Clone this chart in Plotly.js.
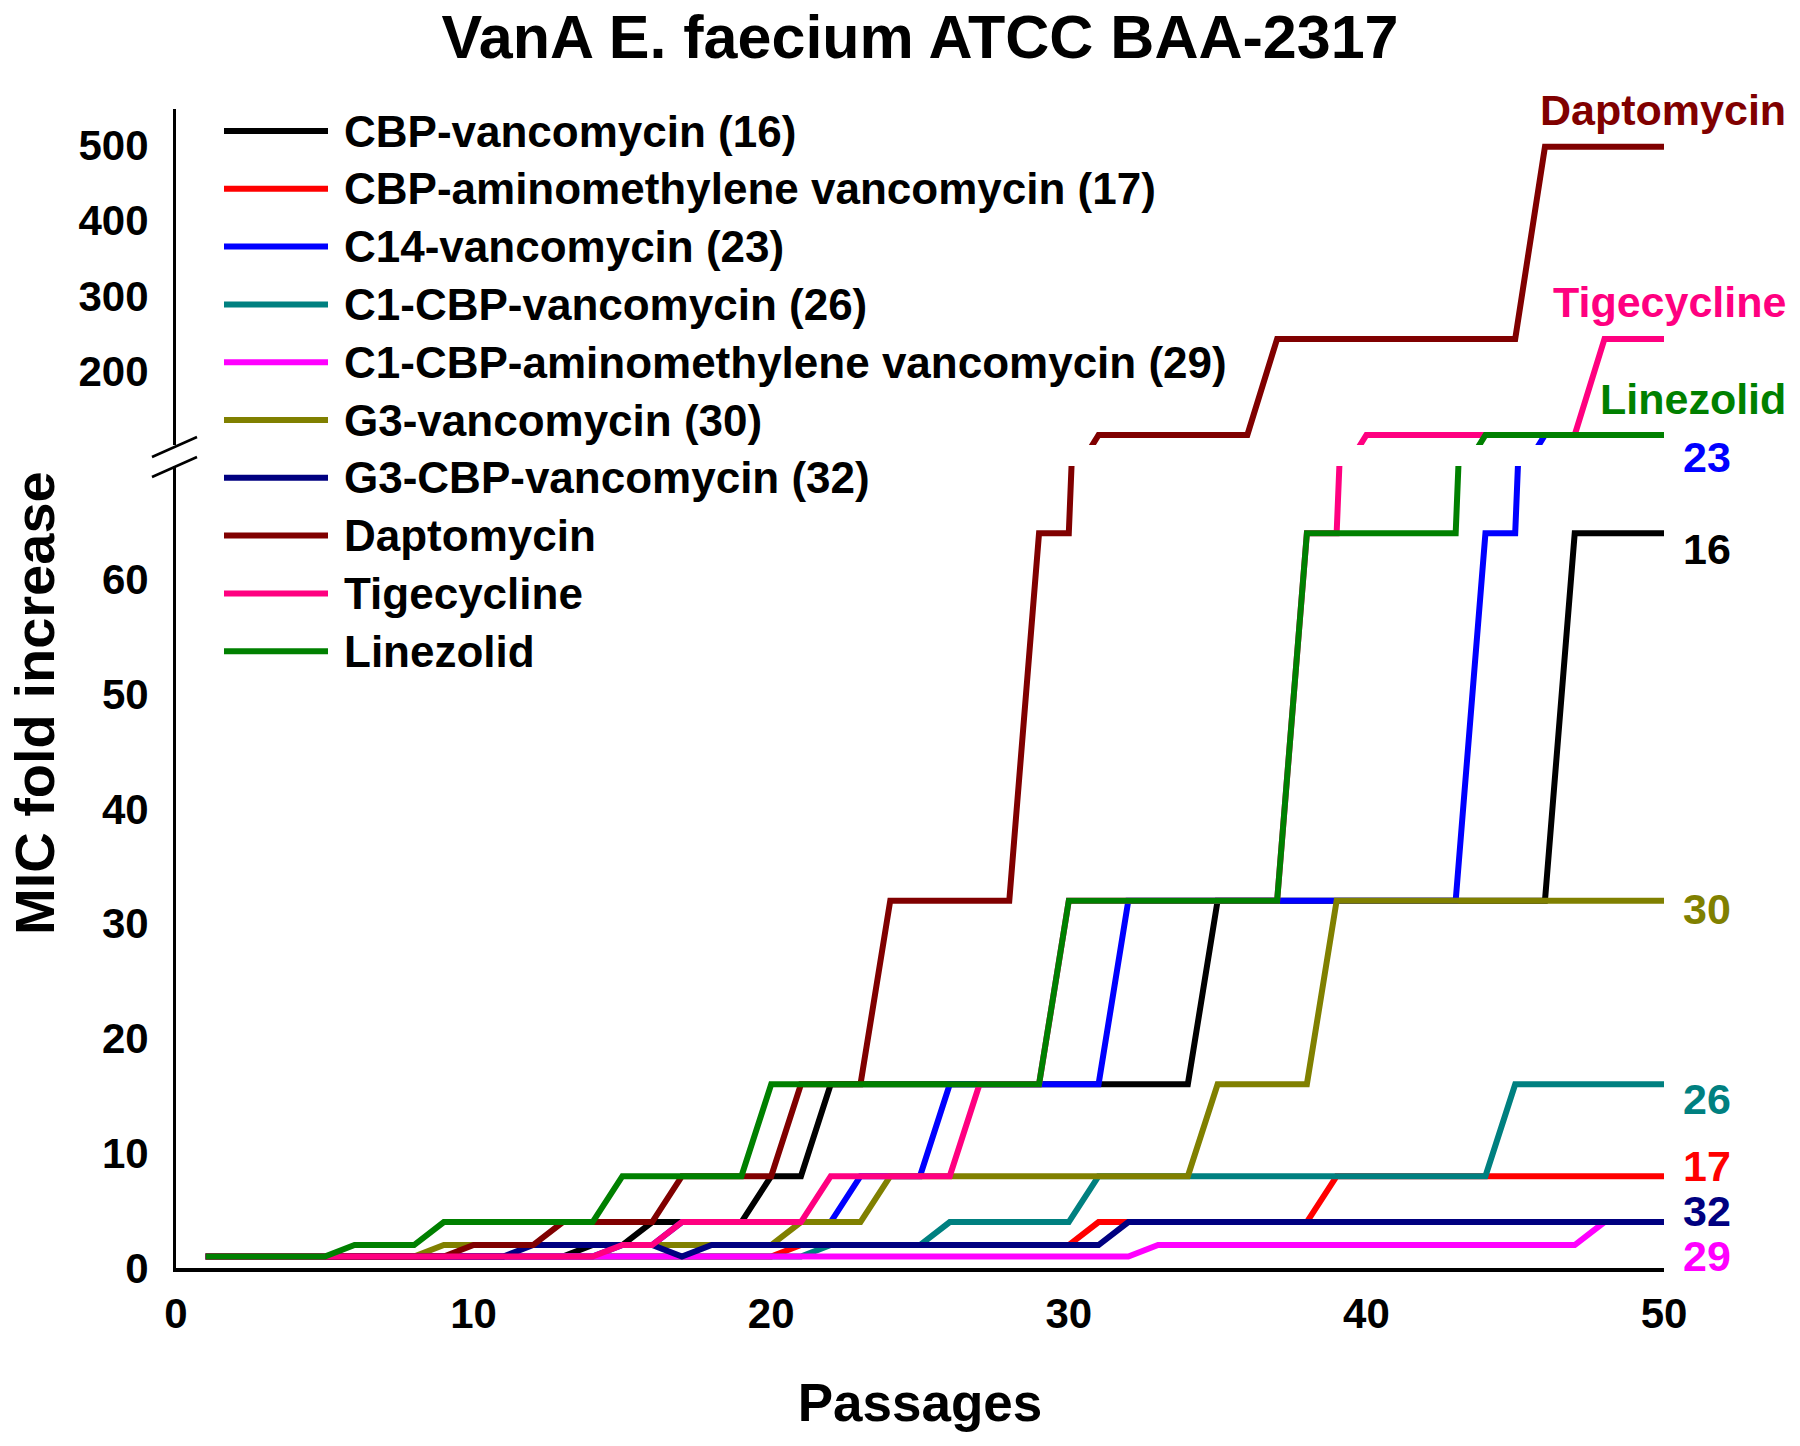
<!DOCTYPE html>
<html>
<head>
<meta charset="utf-8">
<script src="https://cdn.plot.ly/plotly-3.0.1.min.js"></script>
<style>html,body{margin:0;padding:0;background:#fff;}#chart{width:1800px;height:1446px;}</style>
</head>
<body>
<div id="chart"></div>
<script>
// ---------- data ----------
const chartTitle = "VanA E. faecium ATCC BAA-2317";
const xTitle = "Passages";
const yTitle = "MIC fold increase";

const passages = [1,2,3,4,5,6,7,8,9,10,11,12,13,14,15,16,17,18,19,20,21,22,23,24,25,26,27,28,29,30,31,32,33,34,35,36,37,38,39,40,41,42,43,44,45,46,47,48,49,50];

const seriesNames = [
  "CBP-vancomycin (16)",
  "CBP-aminomethylene vancomycin (17)",
  "C14-vancomycin (23)",
  "C1-CBP-vancomycin (26)",
  "C1-CBP-aminomethylene vancomycin (29)",
  "G3-vancomycin (30)",
  "G3-CBP-vancomycin (32)",
  "Daptomycin",
  "Tigecycline",
  "Linezolid"
];
const endLabels = ["16","17","23","26","29","30","32","Daptomycin","Tigecycline","Linezolid"];

const cbpVanco16 = [1,1,1,1,1,1,1,1,1,1, 1,1,1,2,2,4,4,4,4,8, 8,16,16,16,16,16,16,16,16,16, 16,16,16,16,32,32,32,32,32,32, 32,32,32,32,32,32,64,64,64,64];
const cbpAmino17 = [1,1,1,1,1,1,1,1,1,1, 1,1,1,1,1,1,1,1,1,1, 2,2,2,2,2,2,2,2,2,2, 4,4,4,4,4,4,4,4,8,8, 8,8,8,8,8,8,8,8,8,8];
const c14Vanco23 = [1,1,1,1,1,1,1,1,1,1, 1,1,1,1,2,2,4,4,4,4, 4,4,8,8,8,16,16,16,16,16, 16,32,32,32,32,32,32,32,32,32, 32,32,32,64,64,128,128,128,128,128];
const c1Cbp26 = [1,1,1,1,1,1,1,1,1,1, 1,1,1,1,1,1,1,1,1,1, 1,2,2,2,2,4,4,4,4,4, 8,8,8,8,8,8,8,8,8,8, 8,8,8,8,16,16,16,16,16,16];
const c1CbpAmino29 = [1,1,1,1,1,1,1,1,1,1, 1,1,1,1,1,1,1,1,1,1, 1,1,1,1,1,1,1,1,1,1, 1,1,2,2,2,2,2,2,2,2, 2,2,2,2,2,2,2,4,4,4];
const g3Vanco30 = [1,1,1,1,1,1,1,1,2,2, 2,2,2,2,2,2,2,2,2,2, 4,4,4,8,8,8,8,8,8,8, 8,8,8,8,16,16,16,16,32,32, 32,32,32,32,32,32,32,32,32,32];
const g3Cbp32 = [1,1,1,1,1,1,1,1,1,1, 1,2,2,2,2,2,1,2,2,2, 2,2,2,2,2,2,2,2,2,2, 2,4,4,4,4,4,4,4,4,4, 4,4,4,4,4,4,4,4,4,4];
const daptomycin = [1,1,1,1,1,1,1,1,1,2, 2,2,4,4,4,4,8,8,8,8, 16,16,16,32,32,32,32,32,64,64, 128,128,128,128,128,128,256,256,256,256, 256,256,256,256,256,512,512,512,512,512];
const tigecycline = [1,1,1,1,1,1,1,1,1,1, 1,1,1,1,2,2,4,4,4,4, 4,8,8,8,8,8,16,16,16,32, 32,32,32,32,32,32,32,64,64,128, 128,128,128,128,128,128,128,256,256,256];
const linezolid = [1,1,1,1,1,2,2,2,4,4, 4,4,4,4,8,8,8,8,8,16, 16,16,16,16,16,16,16,16,16,32, 32,32,32,32,32,32,32,64,64,64, 64,64,64,128,128,128,128,128,128,128];

const seriesValues = [cbpVanco16, cbpAmino17, c14Vanco23, c1Cbp26, c1CbpAmino29, g3Vanco30, g3Cbp32, daptomycin, tigecycline, linezolid];

const xTicks = [0,10,20,30,40,50];
const yLowTicks = [0,10,20,30,40,50,60];
const yHighTicks = [200,300,400,500];

// ---------- style ----------
const colors = ["#000000","#FF0000","#0000FF","#008080","#FF00FF","#808000","#000080","#800000","#FF0080","#008000"];
const FONT = "Liberation Sans, Arial, Helvetica, sans-serif";
const W = 1800, H = 1446;
const M = {l:176, r:136, t:109, b:178};
const PW = W - M.l - M.r, PH = H - M.t - M.b;
const px = X => (X - M.l) / PW;          // pixel -> paper x
const py = Y => (H - M.b - Y) / PH;      // pixel -> paper y

const lowTop = 466, highBottom = 445;
const LW = 6;

// ---------- traces ----------
const traces = [];
seriesValues.forEach((vals, i) => {
  ["y","y2"].forEach(ax => {
    traces.push({
      type: "scatter", mode: "lines",
      x: passages, y: vals, xaxis: "x", yaxis: ax,
      name: seriesNames[i], showlegend: false,
      line: {color: colors[i], width: LW},
      hoverinfo: "skip"
    });
  });
});

// ---------- annotations & shapes ----------
const annotations = [];
const shapes = [];

// custom legend
const legX0 = 224, legX1 = 328, legText = 342, legY0 = 131, legDY = 57.8;
seriesNames.forEach((n, i) => {
  const Y = legY0 + legDY * i;
  shapes.push({type:"line", xref:"paper", yref:"paper", x0:px(legX0), x1:px(legX1), y0:py(Y), y1:py(Y),
    line:{color:colors[i], width:LW}});
  annotations.push({xref:"paper", yref:"paper", x:px(legText), y:py(Y), xanchor:"left", yanchor:"middle",
    text:n, showarrow:false, font:{family:FONT, size:44, weight:700, color:"#000"}});
});

// end labels
const endPos = {
  "Daptomycin": [1788, 110, "right"],
  "Tigecycline": [1788, 302, "right"],
  "Linezolid": [1788, 399, "right"],
  "23": [1707, 457, "center"],
  "16": [1707, 549, "center"],
  "30": [1707, 909, "center"],
  "26": [1707, 1099, "center"],
  "17": [1707, 1166, "center"],
  "32": [1707, 1211, "center"],
  "29": [1707, 1256, "center"]
};
endLabels.forEach((lab, i) => {
  const p = endPos[lab];
  annotations.push({xref:"paper", yref:"paper", x:px(p[0]), y:py(p[1]), xanchor:p[2], yanchor:"middle",
    text:lab, showarrow:false, font:{family:FONT, size:43, weight:700, color:colors[i]}});
});

// y title (spans both axis parts)
annotations.push({xref:"paper", yref:"paper", x:px(34), y:py(703), xanchor:"center", yanchor:"middle",
  text:yTitle, textangle:-90, showarrow:false, font:{family:FONT, size:56, weight:700, color:"#000"}});

// axis break marks
shapes.push({type:"line", xref:"paper", yref:"paper", x0:px(152), y0:py(457), x1:px(197), y1:py(437), line:{color:"#000", width:2.5}});
shapes.push({type:"line", xref:"paper", yref:"paper", x0:px(152), y0:py(477), x1:px(197), y1:py(457), line:{color:"#000", width:2.5}});

const tickFont = {family:FONT, size:42, weight:700, color:"#000"};

const layout = {
  width: W, height: H,
  margin: M,
  paper_bgcolor: "#fff", plot_bgcolor: "rgba(0,0,0,0)",
  showlegend: false,
  title: {text: chartTitle, x: 0.5, xref: "paper", xanchor: "center", y: 1 - 37/H, yref: "container", yanchor: "middle",
          font: {family: FONT, size: 61, weight: 700, color: "#000"}},
  xaxis: {
    range: [0, 50], anchor: "y", tickvals: xTicks, ticks: "", showgrid: false, zeroline: false,
    showline: true, linecolor: "#000", linewidth: 4, tickfont: tickFont, ticklabelstandoff: 6,
    title: {text: xTitle, standoff: 48, font: {family: FONT, size: 53, weight: 700, color: "#000"}}
  },
  yaxis: {
    domain: [0, py(lowTop)], range: [0, (H - M.b - lowTop) / 11.48], anchor: "x",
    tickvals: yLowTicks, ticks: "", showgrid: false, zeroline: false,
    showline: true, linecolor: "#000", linewidth: 3, tickfont: tickFont, ticklabelstandoff: 16
  },
  yaxis2: {
    domain: [py(highBottom), 1], range: [114.7, 562.2], anchor: "x",
    tickvals: yHighTicks, ticks: "", showgrid: false, zeroline: false,
    showline: true, linecolor: "#000", linewidth: 3, tickfont: tickFont, ticklabelstandoff: 16, ticklabelshift: -10
  },
  annotations: annotations,
  shapes: shapes
};

Plotly.newPlot("chart", traces, layout, {displayModeBar: false, staticPlot: true});
</script>
</body>
</html>
